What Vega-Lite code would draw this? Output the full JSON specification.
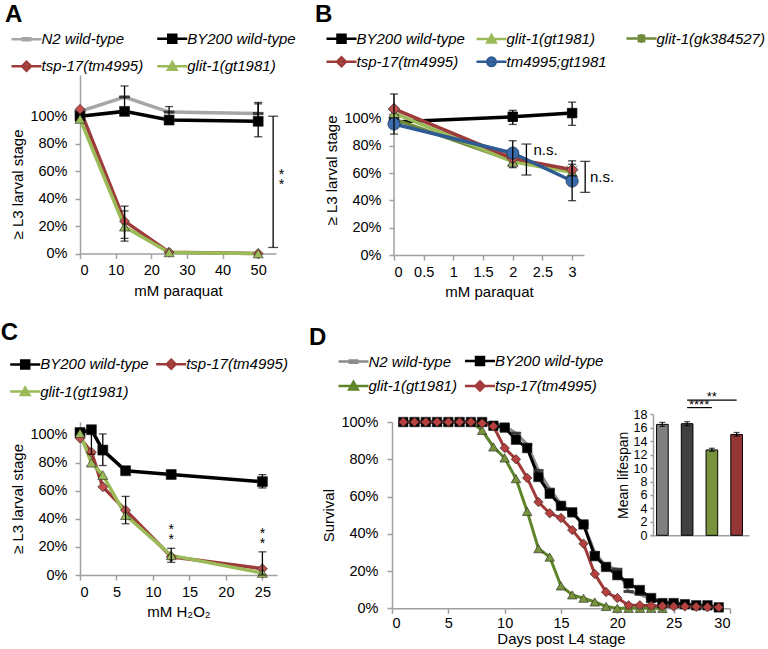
{
  "$schema": "https://vega.github.io/schema/vega-lite/v6.json",
  "background": "white",
  "padding": {"left": 0, "top": 2, "right": 0, "bottom": 0},
  "config": {
    "font": "Liberation Sans",
    "view": {"stroke": null},
    "axis": {"labelFont": "Liberation Sans", "titleFont": "Liberation Sans", "labelFontSize": 14.5, "titleFontSize": 15, "titleFontWeight": "normal", "labelColor": "#000", "titleColor": "#000", "domainColor": "#a0a0a0", "domainWidth": 1.5, "tickColor": "#a0a0a0", "tickWidth": 1.5, "tickSize": 5, "grid": false, "labelOverlap": false},
    "axisX": {"labelPadding": 5, "titlePadding": 6},
    "axisY": {"labelPadding": 8, "titlePadding": 4},
    "legend": {"labelFont": "Liberation Sans", "labelFontStyle": "italic", "labelFontSize": 15, "labelColor": "#000", "symbolSize": 100, "symbolStrokeWidth": 2.5, "padding": 0, "symbolOffset": 10, "labelOffset": 7.5, "direction": "horizontal"},
    "title": {"font": "Liberation Sans", "fontSize": 24, "fontWeight": "bold", "anchor": "start", "frame": "bounds", "baseline": "alphabetic", "color": "#000"}
  },
  "resolve": {"scale": {"color": "independent", "fill": "independent", "shape": "independent", "stroke": "independent", "size": "independent"}},
  "spacing": 20,
  "vconcat": [
    {
      "resolve": {"scale": {"color": "independent", "fill": "independent", "shape": "independent", "stroke": "independent", "size": "independent"}},
      "spacing": 19,
      "hconcat": [
        {
          "width": 196, "height": 178.5,
          "title": {"text": "A", "dx": -4, "offset": 4.5},
          "data": {"values": [
            {"s": "N2 wild-type", "x": 0, "y": 1.035},
            {"s": "N2 wild-type", "x": 12.5, "y": 1.14, "lo": 1.06, "hi": 1.22},
            {"s": "N2 wild-type", "x": 25, "y": 1.03, "lo": 0.99, "hi": 1.07},
            {"s": "N2 wild-type", "x": 50, "y": 1.02, "lo": 0.94, "hi": 1.1},
            {"s": "BY200 wild-type", "x": 0, "y": 1.0},
            {"s": "BY200 wild-type", "x": 12.5, "y": 1.035},
            {"s": "BY200 wild-type", "x": 25, "y": 0.972},
            {"s": "BY200 wild-type", "x": 50, "y": 0.963, "lo": 0.85, "hi": 1.09},
            {"s": "tsp-17(tm4995)", "x": 0, "y": 1.05},
            {"s": "tsp-17(tm4995)", "x": 12.5, "y": 0.235, "lo": 0.11, "hi": 0.345},
            {"s": "tsp-17(tm4995)", "x": 25, "y": 0.01},
            {"s": "tsp-17(tm4995)", "x": 50, "y": 0.0},
            {"s": "glit-1(gt1981)", "x": 0, "y": 0.98},
            {"s": "glit-1(gt1981)", "x": 12.5, "y": 0.195, "lo": 0.09, "hi": 0.31},
            {"s": "glit-1(gt1981)", "x": 25, "y": 0.008},
            {"s": "glit-1(gt1981)", "x": 50, "y": 0.0}
          ]},
          "layer": [
            {
              "mark": {"type": "line", "strokeWidth": 3.5},
              "encoding": {
                "x": {"field": "x", "type": "quantitative", "scale": {"domain": [0, 55], "nice": false}, "axis": {"values": [0, 10, 20, 30, 40, 50], "title": "mM paraquat"}},
                "y": {"field": "y", "type": "quantitative", "scale": {"domain": [0, 1.3], "nice": false}, "axis": {"values": [0, 0.2, 0.4, 0.6, 0.8, 1], "format": ".0%", "title": "≥ L3 larval stage", "titleY": 109}},
                "color": {"field": "s", "type": "nominal",
                  "scale": {"domain": ["N2 wild-type", "BY200 wild-type", "tsp-17(tm4995)", "glit-1(gt1981)"], "range": ["#a6a6a6", "#000000", "#9c3b39", "#9bbb59"]},
                  "legend": {"title": null, "orient": "none", "legendX": -71, "legendY": -44, "columns": 2, "gridAlign": "all", "columnPadding": 1.75, "rowPadding": 8.7,
                    "encode": {"symbols": {"update": {
                      "shape": {"signal": "['M-3,0H3M-0.75,-0.22H0.75V0.22H-0.75Z','M-3,0H3M-0.8,-0.8H0.8V0.8H-0.8Z','M-3,0H3M0,-0.9L0.9,0L0,0.9L-0.9,0Z','M-3,0H3M0,-0.8L0.85,0.7L-0.85,0.7Z'][indexof(['N2 wild-type','BY200 wild-type','tsp-17(tm4995)','glit-1(gt1981)'], datum.value)]"},
                      "fill": {"signal": "['#404040','#000000','#c0504d','#9bbb59'][indexof(['N2 wild-type','BY200 wild-type','tsp-17(tm4995)','glit-1(gt1981)'], datum.value)]"},
                      "stroke": {"signal": "['#a6a6a6','#000000','#9c3b39','#9bbb59'][indexof(['N2 wild-type','BY200 wild-type','tsp-17(tm4995)','glit-1(gt1981)'], datum.value)]"},
                      "strokeWidth": {"value": 2.5}
                    }}}}
                }
              }
            },
            {
              "mark": {"type": "point", "filled": true, "opacity": 1, "size": 100, "stroke": "#222", "strokeWidth": 0.6},
              "encoding": {
                "x": {"field": "x", "type": "quantitative", "scale": {"domain": [0, 55], "nice": false}, "axis": {"values": [0, 10, 20, 30, 40, 50], "title": "mM paraquat"}},
                "y": {"field": "y", "type": "quantitative", "scale": {"domain": [0, 1.3], "nice": false}, "axis": {"values": [0, 0.2, 0.4, 0.6, 0.8, 1], "format": ".0%", "title": "≥ L3 larval stage", "titleY": 109}},
                "fill": {"field": "s", "type": "nominal", "scale": {"domain": ["glit-1(gt1981)", "tsp-17(tm4995)", "BY200 wild-type", "N2 wild-type"], "range": ["#9bbb59", "#c0504d", "#000000", "#404040"]}, "legend": null},
                "shape": {"field": "s", "type": "nominal", "scale": {"domain": ["glit-1(gt1981)", "tsp-17(tm4995)", "BY200 wild-type", "N2 wild-type"], "range": ["triangle-up", "diamond", "square", "M-1,-0.22H1V0.22H-1Z"]}, "legend": null}
              }
            },
            {
              "transform": [{"filter": "isValid(datum.lo)"}],
              "mark": {"type": "errorbar", "ticks": true, "size": 8, "thickness": 1.3, "color": "black"},
              "encoding": {
                "x": {"field": "x", "type": "quantitative", "scale": {"domain": [0, 55], "nice": false}, "axis": {"values": [0, 10, 20, 30, 40, 50], "title": "mM paraquat"}},
                "y": {"field": "lo", "type": "quantitative", "scale": {"domain": [0, 1.3], "nice": false}, "axis": {"values": [0, 0.2, 0.4, 0.6, 0.8, 1], "format": ".0%", "title": "≥ L3 larval stage", "titleY": 109}},
                "y2": {"field": "hi"}
              }
            },
            {
              "data": {"values": [{"x": 54.2, "lo": 0.044, "hi": 1.0}]},
              "mark": {"type": "errorbar", "ticks": true, "size": 10, "thickness": 1.3, "color": "black"},
              "encoding": {
                "x": {"field": "x", "type": "quantitative", "scale": {"domain": [0, 55], "nice": false}, "axis": {"values": [0, 10, 20, 30, 40, 50], "title": "mM paraquat"}},
                "y": {"field": "lo", "type": "quantitative", "scale": {"domain": [0, 1.3], "nice": false}, "axis": {"values": [0, 0.2, 0.4, 0.6, 0.8, 1], "format": ".0%", "title": "≥ L3 larval stage", "titleY": 109}},
                "y2": {"field": "hi"}
              }
            },
            {
              "data": {"values": [{"x": 56.5, "y": 0.54}]},
              "mark": {"type": "text", "text": ["*", "*"], "lineHeight": 10, "fontSize": 14, "baseline": "alphabetic", "color": "#000"},
              "encoding": {
                "x": {"field": "x", "type": "quantitative", "scale": {"domain": [0, 55], "nice": false}, "axis": {"values": [0, 10, 20, 30, 40, 50], "title": "mM paraquat"}},
                "y": {"field": "y", "type": "quantitative", "scale": {"domain": [0, 1.3], "nice": false}, "axis": {"values": [0, 0.2, 0.4, 0.6, 0.8, 1], "format": ".0%", "title": "≥ L3 larval stage", "titleY": 109}}
              }
            }
          ]
        },
        {
          "width": 190, "height": 180,
          "title": {"text": "B", "dx": -9, "offset": 4.5},
          "data": {"values": [
            {"s": "BY200 wild-type", "x": 0, "y": 0.975, "lo": 0.886, "hi": 1.18},
            {"s": "BY200 wild-type", "x": 2, "y": 1.013, "lo": 0.957, "hi": 1.06},
            {"s": "BY200 wild-type", "x": 3, "y": 1.04, "lo": 0.95, "hi": 1.12},
            {"s": "glit-1(gk384527)", "x": 0, "y": 0.995},
            {"s": "glit-1(gk384527)", "x": 2, "y": 0.69},
            {"s": "glit-1(gk384527)", "x": 3, "y": 0.615},
            {"s": "glit-1(gt1981)", "x": 0, "y": 1.04},
            {"s": "glit-1(gt1981)", "x": 2, "y": 0.683},
            {"s": "glit-1(gt1981)", "x": 3, "y": 0.606},
            {"s": "tsp-17(tm4995)", "x": 0, "y": 1.07},
            {"s": "tsp-17(tm4995)", "x": 2, "y": 0.708},
            {"s": "tsp-17(tm4995)", "x": 3, "y": 0.625, "lo": 0.58, "hi": 0.665},
            {"s": "tm4995;gt1981", "x": 0, "y": 0.96},
            {"s": "tm4995;gt1981", "x": 2, "y": 0.747, "lo": 0.64, "hi": 0.837},
            {"s": "tm4995;gt1981", "x": 3, "y": 0.542, "lo": 0.398, "hi": 0.69}
          ]},
          "layer": [
            {
              "data": {"values": [{"x": 0, "lo": 0, "hi": 1.18}]},
              "mark": {"type": "rule", "color": "#a0a0a0", "strokeWidth": 1.5},
              "encoding": {
                "x": {"field": "x", "type": "quantitative", "scale": {"domain": [0, 3.2], "nice": false}, "axis": {"values": [0, 0.5, 1, 1.5, 2, 2.5, 3], "format": "~g", "title": "mM paraquat"}},
                "y": {"field": "lo", "type": "quantitative", "scale": {"domain": [0, 1.319], "nice": false}, "axis": {"values": [0, 0.2, 0.4, 0.6, 0.8, 1], "format": ".0%", "title": "≥ L3 larval stage", "domain": false, "titleY": 95}},
                "y2": {"field": "hi"}
              }
            },
            {
              "mark": {"type": "line", "strokeWidth": 3.5},
              "encoding": {
                "x": {"field": "x", "type": "quantitative", "scale": {"domain": [0, 3.2], "nice": false}, "axis": {"values": [0, 0.5, 1, 1.5, 2, 2.5, 3], "format": "~g", "title": "mM paraquat"}},
                "y": {"field": "y", "type": "quantitative", "scale": {"domain": [0, 1.319], "nice": false}, "axis": {"values": [0, 0.2, 0.4, 0.6, 0.8, 1], "format": ".0%", "title": "≥ L3 larval stage", "domain": false, "titleY": 95}},
                "color": {"field": "s", "type": "nominal",
                  "scale": {"domain": ["BY200 wild-type", "glit-1(gt1981)", "glit-1(gk384527)", "tsp-17(tm4995)", "tm4995;gt1981"], "range": ["#000000", "#9bbb59", "#6f8a3a", "#9c3b39", "#2f5b93"]},
                  "legend": {"title": null, "orient": "none", "legendX": -70, "legendY": -44, "columns": 3, "gridAlign": "all", "columnPadding": 6, "rowPadding": 4.3,
                    "encode": {"symbols": {"update": {
                      "shape": {"signal": "['M-3,0H3M-0.8,-0.8H0.8V0.8H-0.8Z','M-3,0H3M0,-0.8L0.85,0.7L-0.85,0.7Z','M-3,0H3M-0.7,-0.7L0.7,0.7M-0.7,0.7L0.7,-0.7M0,-0.9V0.9','M-3,0H3M0,-0.9L0.9,0L0,0.9L-0.9,0Z','M-3,0H3M0.85,0A0.85,0.85,0,1,1,-0.85,0A0.85,0.85,0,1,1,0.85,0Z'][indexof(['BY200 wild-type','glit-1(gt1981)','glit-1(gk384527)','tsp-17(tm4995)','tm4995;gt1981'], datum.value)]"},
                      "fill": {"signal": "['#000000','#9bbb59','#6f8a3a','#c0504d','#3b6bab'][indexof(['BY200 wild-type','glit-1(gt1981)','glit-1(gk384527)','tsp-17(tm4995)','tm4995;gt1981'], datum.value)]"},
                      "stroke": {"signal": "['#000000','#9bbb59','#6f8a3a','#9c3b39','#2f5b93'][indexof(['BY200 wild-type','glit-1(gt1981)','glit-1(gk384527)','tsp-17(tm4995)','tm4995;gt1981'], datum.value)]"},
                      "strokeWidth": {"value": 2.5}
                    }}}}
                }
              }
            },
            {
              "mark": {"type": "point", "filled": true, "opacity": 1, "strokeWidth": 0.8},
              "encoding": {
                "x": {"field": "x", "type": "quantitative", "scale": {"domain": [0, 3.2], "nice": false}, "axis": {"values": [0, 0.5, 1, 1.5, 2, 2.5, 3], "format": "~g", "title": "mM paraquat"}},
                "y": {"field": "y", "type": "quantitative", "scale": {"domain": [0, 1.319], "nice": false}, "axis": {"values": [0, 0.2, 0.4, 0.6, 0.8, 1], "format": ".0%", "title": "≥ L3 larval stage", "domain": false, "titleY": 95}},
                "fill": {"field": "s", "type": "nominal", "scale": {"domain": ["tm4995;gt1981", "tsp-17(tm4995)", "glit-1(gk384527)", "glit-1(gt1981)", "BY200 wild-type"], "range": ["#3b6bab", "#c0504d", "#6f8a3a", "#9bbb59", "#000000"]}, "legend": null},
                "stroke": {"field": "s", "type": "nominal", "scale": {"domain": ["tm4995;gt1981", "tsp-17(tm4995)", "glit-1(gk384527)", "glit-1(gt1981)", "BY200 wild-type"], "range": ["#1f3550", "#333333", "#556b2f", "#333333", "#000000"]}, "legend": null},
                "shape": {"field": "s", "type": "nominal", "scale": {"domain": ["tm4995;gt1981", "tsp-17(tm4995)", "glit-1(gk384527)", "glit-1(gt1981)", "BY200 wild-type"], "range": ["circle", "diamond", "M-1,-1L1,1M-1,1L1,-1M0,-1.2V1.2", "triangle-up", "square"]}, "legend": null},
                "size": {"field": "s", "type": "nominal", "scale": {"domain": ["tm4995;gt1981", "tsp-17(tm4995)", "glit-1(gk384527)", "glit-1(gt1981)", "BY200 wild-type"], "range": [150, 90, 70, 90, 100]}, "legend": null}
              }
            },
            {
              "transform": [{"filter": "isValid(datum.lo)"}],
              "mark": {"type": "errorbar", "ticks": true, "size": 8, "thickness": 1.3, "color": "black"},
              "encoding": {
                "x": {"field": "x", "type": "quantitative", "scale": {"domain": [0, 3.2], "nice": false}, "axis": {"values": [0, 0.5, 1, 1.5, 2, 2.5, 3], "format": "~g", "title": "mM paraquat"}},
                "y": {"field": "lo", "type": "quantitative", "scale": {"domain": [0, 1.319], "nice": false}, "axis": {"values": [0, 0.2, 0.4, 0.6, 0.8, 1], "format": ".0%", "title": "≥ L3 larval stage", "domain": false, "titleY": 95}},
                "y2": {"field": "hi"}
              }
            },
            {
              "data": {"values": [{"x": 2.23, "lo": 0.586, "hi": 0.813, "tx": 2.35, "ty": 0.773}, {"x": 3.22, "lo": 0.459, "hi": 0.686, "tx": 3.3, "ty": 0.571}]},
              "layer": [
                {
                  "mark": {"type": "errorbar", "ticks": true, "size": 10, "thickness": 1.3, "color": "black"},
                  "encoding": {
                    "x": {"field": "x", "type": "quantitative", "scale": {"domain": [0, 3.2], "nice": false}, "axis": {"values": [0, 0.5, 1, 1.5, 2, 2.5, 3], "format": "~g", "title": "mM paraquat"}},
                    "y": {"field": "lo", "type": "quantitative", "scale": {"domain": [0, 1.319], "nice": false}, "axis": {"values": [0, 0.2, 0.4, 0.6, 0.8, 1], "format": ".0%", "title": "≥ L3 larval stage", "domain": false, "titleY": 95}},
                    "y2": {"field": "hi"}
                  }
                },
                {
                  "mark": {"type": "text", "text": "n.s.", "fontSize": 15, "align": "left", "baseline": "middle", "color": "#000"},
                  "encoding": {
                    "x": {"field": "tx", "type": "quantitative", "scale": {"domain": [0, 3.2], "nice": false}, "axis": {"values": [0, 0.5, 1, 1.5, 2, 2.5, 3], "format": "~g", "title": "mM paraquat"}},
                    "y": {"field": "ty", "type": "quantitative", "scale": {"domain": [0, 1.319], "nice": false}, "axis": {"values": [0, 0.2, 0.4, 0.6, 0.8, 1], "format": ".0%", "title": "≥ L3 larval stage", "domain": false, "titleY": 95}}
                  }
                }
              ]
            }
          ]
        }
      ]
    },
    {
      "resolve": {"scale": {"color": "independent", "fill": "independent", "shape": "independent", "stroke": "independent", "size": "independent"}},
      "spacing": 19,
      "hconcat": [
        {
          "width": 197, "height": 153,
          "title": {"text": "C", "dx": -7, "offset": 12},
          "data": {"values": [
            {"s": "BY200 wild-type", "x": 0, "y": 1.015},
            {"s": "BY200 wild-type", "x": 1.5625, "y": 1.035, "lo": 0.86, "hi": 1.05},
            {"s": "BY200 wild-type", "x": 3.125, "y": 0.89, "lo": 0.78, "hi": 1.005},
            {"s": "BY200 wild-type", "x": 6.25, "y": 0.743},
            {"s": "BY200 wild-type", "x": 12.5, "y": 0.716},
            {"s": "BY200 wild-type", "x": 25, "y": 0.665, "lo": 0.62, "hi": 0.715},
            {"s": "tsp-17(tm4995)", "x": 0, "y": 0.975},
            {"s": "tsp-17(tm4995)", "x": 1.5625, "y": 0.875},
            {"s": "tsp-17(tm4995)", "x": 3.125, "y": 0.628},
            {"s": "tsp-17(tm4995)", "x": 6.25, "y": 0.462},
            {"s": "tsp-17(tm4995)", "x": 12.5, "y": 0.13},
            {"s": "tsp-17(tm4995)", "x": 25, "y": 0.045, "lo": 0.0, "hi": 0.165},
            {"s": "glit-1(gt1981)", "x": 0, "y": 1.01},
            {"s": "glit-1(gt1981)", "x": 1.5625, "y": 0.8},
            {"s": "glit-1(gt1981)", "x": 3.125, "y": 0.712},
            {"s": "glit-1(gt1981)", "x": 6.25, "y": 0.426, "lo": 0.365, "hi": 0.56},
            {"s": "glit-1(gt1981)", "x": 12.5, "y": 0.14, "lo": 0.09, "hi": 0.19},
            {"s": "glit-1(gt1981)", "x": 25, "y": 0.014}
          ]},
          "layer": [
            {
              "mark": {"type": "line", "strokeWidth": 3.5},
              "encoding": {
                "x": {"field": "x", "type": "quantitative", "scale": {"domain": [0, 27], "nice": false}, "axis": {"values": [0, 5, 10, 15, 20, 25], "title": "mM H₂O₂"}},
                "y": {"field": "y", "type": "quantitative", "scale": {"domain": [0, 1.09], "nice": false}, "axis": {"values": [0, 0.2, 0.4, 0.6, 0.8, 1], "format": ".0%", "title": "≥ L3 larval stage"}},
                "color": {"field": "s", "type": "nominal",
                  "scale": {"domain": ["BY200 wild-type", "tsp-17(tm4995)", "glit-1(gt1981)"], "range": ["#000000", "#9c3b39", "#9bbb59"]},
                  "legend": {"title": null, "orient": "none", "legendX": -72.3, "legendY": -65.3, "columns": 2, "gridAlign": "all", "columnPadding": 2, "rowPadding": 8.3,
                    "encode": {"symbols": {"update": {
                      "shape": {"signal": "['M-3,0H3M-0.8,-0.8H0.8V0.8H-0.8Z','M-3,0H3M0,-0.9L0.9,0L0,0.9L-0.9,0Z','M-3,0H3M0,-0.8L0.85,0.7L-0.85,0.7Z'][indexof(['BY200 wild-type','tsp-17(tm4995)','glit-1(gt1981)'], datum.value)]"},
                      "fill": {"signal": "['#000000','#c0504d','#9bbb59'][indexof(['BY200 wild-type','tsp-17(tm4995)','glit-1(gt1981)'], datum.value)]"},
                      "stroke": {"signal": "['#000000','#9c3b39','#9bbb59'][indexof(['BY200 wild-type','tsp-17(tm4995)','glit-1(gt1981)'], datum.value)]"},
                      "strokeWidth": {"value": 2.5}
                    }}}}
                }
              }
            },
            {
              "mark": {"type": "point", "filled": true, "opacity": 1, "size": 100, "stroke": "#222", "strokeWidth": 0.6},
              "encoding": {
                "x": {"field": "x", "type": "quantitative", "scale": {"domain": [0, 27], "nice": false}, "axis": {"values": [0, 5, 10, 15, 20, 25], "title": "mM H₂O₂"}},
                "y": {"field": "y", "type": "quantitative", "scale": {"domain": [0, 1.09], "nice": false}, "axis": {"values": [0, 0.2, 0.4, 0.6, 0.8, 1], "format": ".0%", "title": "≥ L3 larval stage"}},
                "fill": {"field": "s", "type": "nominal", "scale": {"domain": ["glit-1(gt1981)", "tsp-17(tm4995)", "BY200 wild-type"], "range": ["#9bbb59", "#c0504d", "#000000"]}, "legend": null},
                "shape": {"field": "s", "type": "nominal", "scale": {"domain": ["glit-1(gt1981)", "tsp-17(tm4995)", "BY200 wild-type"], "range": ["triangle-up", "diamond", "square"]}, "legend": null}
              }
            },
            {
              "transform": [{"filter": "isValid(datum.lo)"}],
              "mark": {"type": "errorbar", "ticks": true, "size": 8, "thickness": 1.3, "color": "black"},
              "encoding": {
                "x": {"field": "x", "type": "quantitative", "scale": {"domain": [0, 27], "nice": false}, "axis": {"values": [0, 5, 10, 15, 20, 25], "title": "mM H₂O₂"}},
                "y": {"field": "lo", "type": "quantitative", "scale": {"domain": [0, 1.09], "nice": false}, "axis": {"values": [0, 0.2, 0.4, 0.6, 0.8, 1], "format": ".0%", "title": "≥ L3 larval stage"}},
                "y2": {"field": "hi"}
              }
            },
            {
              "data": {"values": [{"x": 12.5, "y": 0.292}, {"x": 25, "y": 0.264}]},
              "mark": {"type": "text", "text": ["*", "*"], "lineHeight": 10, "fontSize": 14, "baseline": "alphabetic", "color": "#000"},
              "encoding": {
                "x": {"field": "x", "type": "quantitative", "scale": {"domain": [0, 27], "nice": false}, "axis": {"values": [0, 5, 10, 15, 20, 25], "title": "mM H₂O₂"}},
                "y": {"field": "y", "type": "quantitative", "scale": {"domain": [0, 1.09], "nice": false}, "axis": {"values": [0, 0.2, 0.4, 0.6, 0.8, 1], "format": ".0%", "title": "≥ L3 larval stage"}}
              }
            }
          ]
        },
        {
          "width": 338, "height": 186.3,
          "title": {"text": "D", "dx": -13, "offset": 3.5},
          "resolve": {"scale": {"x": "independent", "y": "independent", "color": "independent"}, "axis": {"x": "independent", "y": "independent"}},
          "layer": [
            {
              "data": {"values": [
                {"s": "N2 wild-type", "d": 1, "v": 1}, {"s": "N2 wild-type", "d": 2, "v": 1}, {"s": "N2 wild-type", "d": 3, "v": 1}, {"s": "N2 wild-type", "d": 4, "v": 1}, {"s": "N2 wild-type", "d": 5, "v": 1}, {"s": "N2 wild-type", "d": 6, "v": 1}, {"s": "N2 wild-type", "d": 7, "v": 1}, {"s": "N2 wild-type", "d": 8, "v": 1},
                {"s": "N2 wild-type", "d": 9, "v": 0.99}, {"s": "N2 wild-type", "d": 10, "v": 0.98}, {"s": "N2 wild-type", "d": 11, "v": 0.94}, {"s": "N2 wild-type", "d": 12, "v": 0.88}, {"s": "N2 wild-type", "d": 13, "v": 0.74}, {"s": "N2 wild-type", "d": 14, "v": 0.64}, {"s": "N2 wild-type", "d": 15, "v": 0.56}, {"s": "N2 wild-type", "d": 16, "v": 0.51}, {"s": "N2 wild-type", "d": 17, "v": 0.45}, {"s": "N2 wild-type", "d": 18, "v": 0.3}, {"s": "N2 wild-type", "d": 19, "v": 0.225}, {"s": "N2 wild-type", "d": 20, "v": 0.21}, {"s": "N2 wild-type", "d": 21, "v": 0.09}, {"s": "N2 wild-type", "d": 22, "v": 0.075}, {"s": "N2 wild-type", "d": 23, "v": 0.05}, {"s": "N2 wild-type", "d": 24, "v": 0.035}, {"s": "N2 wild-type", "d": 25, "v": 0.03}, {"s": "N2 wild-type", "d": 26, "v": 0.02}, {"s": "N2 wild-type", "d": 27, "v": 0.015}, {"s": "N2 wild-type", "d": 28, "v": 0.01}, {"s": "N2 wild-type", "d": 29, "v": 0.005},
                {"s": "glit-1(gt1981)", "d": 1, "v": 1}, {"s": "glit-1(gt1981)", "d": 2, "v": 1}, {"s": "glit-1(gt1981)", "d": 3, "v": 1}, {"s": "glit-1(gt1981)", "d": 4, "v": 1}, {"s": "glit-1(gt1981)", "d": 5, "v": 1}, {"s": "glit-1(gt1981)", "d": 6, "v": 1}, {"s": "glit-1(gt1981)", "d": 7, "v": 1},
                {"s": "glit-1(gt1981)", "d": 8, "v": 0.955}, {"s": "glit-1(gt1981)", "d": 9, "v": 0.866}, {"s": "glit-1(gt1981)", "d": 10, "v": 0.807}, {"s": "glit-1(gt1981)", "d": 11, "v": 0.696}, {"s": "glit-1(gt1981)", "d": 12, "v": 0.52}, {"s": "glit-1(gt1981)", "d": 13, "v": 0.32}, {"s": "glit-1(gt1981)", "d": 14, "v": 0.275}, {"s": "glit-1(gt1981)", "d": 15, "v": 0.12}, {"s": "glit-1(gt1981)", "d": 16, "v": 0.072}, {"s": "glit-1(gt1981)", "d": 17, "v": 0.054}, {"s": "glit-1(gt1981)", "d": 18, "v": 0.034}, {"s": "glit-1(gt1981)", "d": 19, "v": 0.01}, {"s": "glit-1(gt1981)", "d": 20, "v": 0}, {"s": "glit-1(gt1981)", "d": 21, "v": 0}, {"s": "glit-1(gt1981)", "d": 22, "v": 0}, {"s": "glit-1(gt1981)", "d": 23, "v": 0}, {"s": "glit-1(gt1981)", "d": 24, "v": 0},
                {"s": "BY200 wild-type", "d": 1, "v": 1}, {"s": "BY200 wild-type", "d": 2, "v": 1}, {"s": "BY200 wild-type", "d": 3, "v": 1}, {"s": "BY200 wild-type", "d": 4, "v": 1}, {"s": "BY200 wild-type", "d": 5, "v": 1}, {"s": "BY200 wild-type", "d": 6, "v": 1}, {"s": "BY200 wild-type", "d": 7, "v": 1}, {"s": "BY200 wild-type", "d": 8, "v": 1},
                {"s": "BY200 wild-type", "d": 9, "v": 0.98}, {"s": "BY200 wild-type", "d": 10, "v": 0.97}, {"s": "BY200 wild-type", "d": 11, "v": 0.905}, {"s": "BY200 wild-type", "d": 12, "v": 0.86}, {"s": "BY200 wild-type", "d": 13, "v": 0.705}, {"s": "BY200 wild-type", "d": 14, "v": 0.615}, {"s": "BY200 wild-type", "d": 15, "v": 0.55}, {"s": "BY200 wild-type", "d": 16, "v": 0.515}, {"s": "BY200 wild-type", "d": 17, "v": 0.45}, {"s": "BY200 wild-type", "d": 18, "v": 0.28}, {"s": "BY200 wild-type", "d": 19, "v": 0.222}, {"s": "BY200 wild-type", "d": 20, "v": 0.178}, {"s": "BY200 wild-type", "d": 21, "v": 0.134}, {"s": "BY200 wild-type", "d": 22, "v": 0.098}, {"s": "BY200 wild-type", "d": 23, "v": 0.055}, {"s": "BY200 wild-type", "d": 24, "v": 0.028}, {"s": "BY200 wild-type", "d": 25, "v": 0.028}, {"s": "BY200 wild-type", "d": 26, "v": 0.022}, {"s": "BY200 wild-type", "d": 27, "v": 0.016}, {"s": "BY200 wild-type", "d": 28, "v": 0.016}, {"s": "BY200 wild-type", "d": 29, "v": 0.005},
                {"s": "tsp-17(tm4995)", "d": 1, "v": 1}, {"s": "tsp-17(tm4995)", "d": 2, "v": 1}, {"s": "tsp-17(tm4995)", "d": 3, "v": 1}, {"s": "tsp-17(tm4995)", "d": 4, "v": 1}, {"s": "tsp-17(tm4995)", "d": 5, "v": 1}, {"s": "tsp-17(tm4995)", "d": 6, "v": 1}, {"s": "tsp-17(tm4995)", "d": 7, "v": 1},
                {"s": "tsp-17(tm4995)", "d": 8, "v": 0.993}, {"s": "tsp-17(tm4995)", "d": 9, "v": 0.977}, {"s": "tsp-17(tm4995)", "d": 10, "v": 0.86}, {"s": "tsp-17(tm4995)", "d": 11, "v": 0.8}, {"s": "tsp-17(tm4995)", "d": 12, "v": 0.7}, {"s": "tsp-17(tm4995)", "d": 13, "v": 0.57}, {"s": "tsp-17(tm4995)", "d": 14, "v": 0.51}, {"s": "tsp-17(tm4995)", "d": 15, "v": 0.485}, {"s": "tsp-17(tm4995)", "d": 16, "v": 0.42}, {"s": "tsp-17(tm4995)", "d": 17, "v": 0.347}, {"s": "tsp-17(tm4995)", "d": 18, "v": 0.184}, {"s": "tsp-17(tm4995)", "d": 19, "v": 0.087}, {"s": "tsp-17(tm4995)", "d": 20, "v": 0.055}, {"s": "tsp-17(tm4995)", "d": 21, "v": 0.016}, {"s": "tsp-17(tm4995)", "d": 22, "v": 0.016}, {"s": "tsp-17(tm4995)", "d": 23, "v": 0.014}, {"s": "tsp-17(tm4995)", "d": 24, "v": 0.012}, {"s": "tsp-17(tm4995)", "d": 25, "v": 0.01}, {"s": "tsp-17(tm4995)", "d": 26, "v": 0.01}, {"s": "tsp-17(tm4995)", "d": 27, "v": 0.008}, {"s": "tsp-17(tm4995)", "d": 28, "v": 0.006}, {"s": "tsp-17(tm4995)", "d": 29, "v": 0.005}
              ]},
              "layer": [
                {
                  "mark": {"type": "line", "strokeWidth": 3},
                  "encoding": {
                    "x": {"field": "d", "type": "quantitative", "scale": {"domain": [0, 30], "nice": false}, "axis": {"values": [0, 5, 10, 15, 20, 25, 30], "title": "Days post L4 stage", "labelPadding": 3, "titlePadding": 2}},
                    "y": {"field": "v", "type": "quantitative", "scale": {"domain": [0, 1], "nice": false}, "axis": {"values": [0, 0.2, 0.4, 0.6, 0.8, 1], "format": ".0%", "title": "Survival", "labelPadding": 9}},
                    "color": {"field": "s", "type": "nominal",
                      "scale": {"domain": ["N2 wild-type", "BY200 wild-type", "glit-1(gt1981)", "tsp-17(tm4995)"], "range": ["#8c8c8c", "#000000", "#5f852a", "#a03a38"]},
                      "legend": {"title": null, "orient": "none", "legendX": -56, "legendY": -68.7, "columns": 2, "gridAlign": "each", "columnPadding": 2.5, "rowPadding": 6.1,
                        "encode": {"symbols": {"update": {
                          "shape": {"signal": "['M-3,0H3M-0.75,-0.22H0.75V0.22H-0.75Z','M-3,0H3M-0.8,-0.8H0.8V0.8H-0.8Z','M-3,0H3M0,-0.8L0.85,0.7L-0.85,0.7Z','M-3,0H3M0,-0.9L0.9,0L0,0.9L-0.9,0Z'][indexof(['N2 wild-type','BY200 wild-type','glit-1(gt1981)','tsp-17(tm4995)'], datum.value)]"},
                          "fill": {"signal": "['#404040','#000000','#77933c','#b5403d'][indexof(['N2 wild-type','BY200 wild-type','glit-1(gt1981)','tsp-17(tm4995)'], datum.value)]"},
                          "stroke": {"signal": "['#8c8c8c','#000000','#5f852a','#a03a38'][indexof(['N2 wild-type','BY200 wild-type','glit-1(gt1981)','tsp-17(tm4995)'], datum.value)]"},
                          "strokeWidth": {"value": 2.5}
                        }}}}
                    }
                  }
                },
                {
                  "mark": {"type": "point", "filled": true, "opacity": 1, "size": 90, "stroke": "#222", "strokeWidth": 0.6},
                  "encoding": {
                    "x": {"field": "d", "type": "quantitative", "scale": {"domain": [0, 30], "nice": false}, "axis": {"values": [0, 5, 10, 15, 20, 25, 30], "title": "Days post L4 stage", "labelPadding": 3, "titlePadding": 2}},
                    "y": {"field": "v", "type": "quantitative", "scale": {"domain": [0, 1], "nice": false}, "axis": {"values": [0, 0.2, 0.4, 0.6, 0.8, 1], "format": ".0%", "title": "Survival", "labelPadding": 9}},
                    "fill": {"field": "s", "type": "nominal", "scale": {"domain": ["tsp-17(tm4995)", "glit-1(gt1981)", "BY200 wild-type", "N2 wild-type"], "range": ["#b5403d", "#77933c", "#000000", "#404040"]}, "legend": null},
                    "shape": {"field": "s", "type": "nominal", "scale": {"domain": ["tsp-17(tm4995)", "glit-1(gt1981)", "BY200 wild-type", "N2 wild-type"], "range": ["diamond", "triangle-up", "square", "M-1,-0.22H1V0.22H-1Z"]}, "legend": null}
                  }
                }
              ]
            },
            {
              "data": {"values": [
                {"g": "N2", "m": 16.5, "lo": 16.2, "hi": 16.8},
                {"g": "BY200", "m": 16.6, "lo": 16.3, "hi": 16.9},
                {"g": "glit", "m": 12.7, "lo": 12.5, "hi": 12.95},
                {"g": "tsp", "m": 15.0, "lo": 14.75, "hi": 15.3}
              ]},
              "layer": [
                {
                  "mark": {"type": "bar", "stroke": "#000", "strokeWidth": 1},
                  "encoding": {
                    "x": {"field": "g", "type": "nominal", "scale": {"domain": ["N2", "BY200", "glit", "tsp"], "range": [258, 357], "paddingInner": 0.53, "paddingOuter": 0.265}, "axis": {"orient": "bottom", "offset": -73, "labels": false, "ticks": false, "title": null}},
                    "y": {"field": "m", "type": "quantitative", "scale": {"domain": [0, 18], "range": [113.3, -7.7], "nice": false}, "axis": {"orient": "left", "offset": -261, "values": [0, 2, 4, 6, 8, 10, 12, 14, 16, 18], "title": "Mean lifespan", "labelFontSize": 12.5, "tickSize": 3, "labelPadding": 3, "titleFontSize": 14, "titlePadding": 3}},
                    "color": {"field": "g", "type": "nominal", "scale": {"domain": ["N2", "BY200", "glit", "tsp"], "range": ["#7f7f7f", "#404040", "#77933c", "#953735"]}, "legend": null}
                  }
                },
                {
                  "mark": {"type": "errorbar", "ticks": true, "size": 6, "thickness": 1.2, "color": "black"},
                  "encoding": {
                    "x": {"field": "g", "type": "nominal", "scale": {"domain": ["N2", "BY200", "glit", "tsp"], "range": [258, 357], "paddingInner": 0.53, "paddingOuter": 0.265}, "axis": {"orient": "bottom", "offset": -73, "labels": false, "ticks": false, "title": null}},
                    "y": {"field": "lo", "type": "quantitative", "scale": {"domain": [0, 18], "range": [113.3, -7.7], "nice": false}, "axis": {"orient": "left", "offset": -261, "values": [0, 2, 4, 6, 8, 10, 12, 14, 16, 18], "title": "Mean lifespan", "labelFontSize": 12.5, "tickSize": 3, "labelPadding": 3, "titleFontSize": 14, "titlePadding": 3}},
                    "y2": {"field": "hi"}
                  }
                },
                {
                  "data": {"values": [{"a": "BY200", "b": "tsp", "y": 20.1}, {"a": "BY200", "b": "glit", "y": 19.0}]},
                  "mark": {"type": "rule", "color": "#000", "strokeWidth": 1.2},
                  "encoding": {
                    "x": {"field": "a", "type": "nominal", "bandPosition": 0.5, "scale": {"domain": ["N2", "BY200", "glit", "tsp"], "range": [258, 357], "paddingInner": 0.53, "paddingOuter": 0.265}, "axis": {"orient": "bottom", "offset": -73, "labels": false, "ticks": false, "title": null}},
                    "x2": {"field": "b", "bandPosition": 0.5},
                    "y": {"field": "y", "type": "quantitative", "scale": {"domain": [0, 18], "range": [113.3, -7.7], "nice": false}, "axis": {"orient": "left", "offset": -261, "values": [0, 2, 4, 6, 8, 10, 12, 14, 16, 18], "title": "Mean lifespan", "labelFontSize": 12.5, "tickSize": 3, "labelPadding": 3, "titleFontSize": 14, "titlePadding": 3}}
                  }
                },
                {
                  "data": {"values": [{"a": "glit", "y": 20.1, "t": "**"}]},
                  "mark": {"type": "text", "fontSize": 13, "baseline": "alphabetic", "dy": 1, "color": "#000"},
                  "encoding": {
                    "x": {"field": "a", "type": "nominal", "bandPosition": 0.5, "scale": {"domain": ["N2", "BY200", "glit", "tsp"], "range": [258, 357], "paddingInner": 0.53, "paddingOuter": 0.265}, "axis": {"orient": "bottom", "offset": -73, "labels": false, "ticks": false, "title": null}},
                    "y": {"field": "y", "type": "quantitative", "scale": {"domain": [0, 18], "range": [113.3, -7.7], "nice": false}, "axis": {"orient": "left", "offset": -261, "values": [0, 2, 4, 6, 8, 10, 12, 14, 16, 18], "title": "Mean lifespan", "labelFontSize": 12.5, "tickSize": 3, "labelPadding": 3, "titleFontSize": 14, "titlePadding": 3}},
                    "text": {"field": "t"}
                  }
                },
                {
                  "data": {"values": [{"a": "BY200", "y": 19.0, "t": "****"}]},
                  "mark": {"type": "text", "fontSize": 13, "baseline": "alphabetic", "dy": 1, "dx": 12, "color": "#000"},
                  "encoding": {
                    "x": {"field": "a", "type": "nominal", "bandPosition": 0.5, "scale": {"domain": ["N2", "BY200", "glit", "tsp"], "range": [258, 357], "paddingInner": 0.53, "paddingOuter": 0.265}, "axis": {"orient": "bottom", "offset": -73, "labels": false, "ticks": false, "title": null}},
                    "y": {"field": "y", "type": "quantitative", "scale": {"domain": [0, 18], "range": [113.3, -7.7], "nice": false}, "axis": {"orient": "left", "offset": -261, "values": [0, 2, 4, 6, 8, 10, 12, 14, 16, 18], "title": "Mean lifespan", "labelFontSize": 12.5, "tickSize": 3, "labelPadding": 3, "titleFontSize": 14, "titlePadding": 3}},
                    "text": {"field": "t"}
                  }
                }
              ]
            }
          ]
        }
      ]
    }
  ]
}
